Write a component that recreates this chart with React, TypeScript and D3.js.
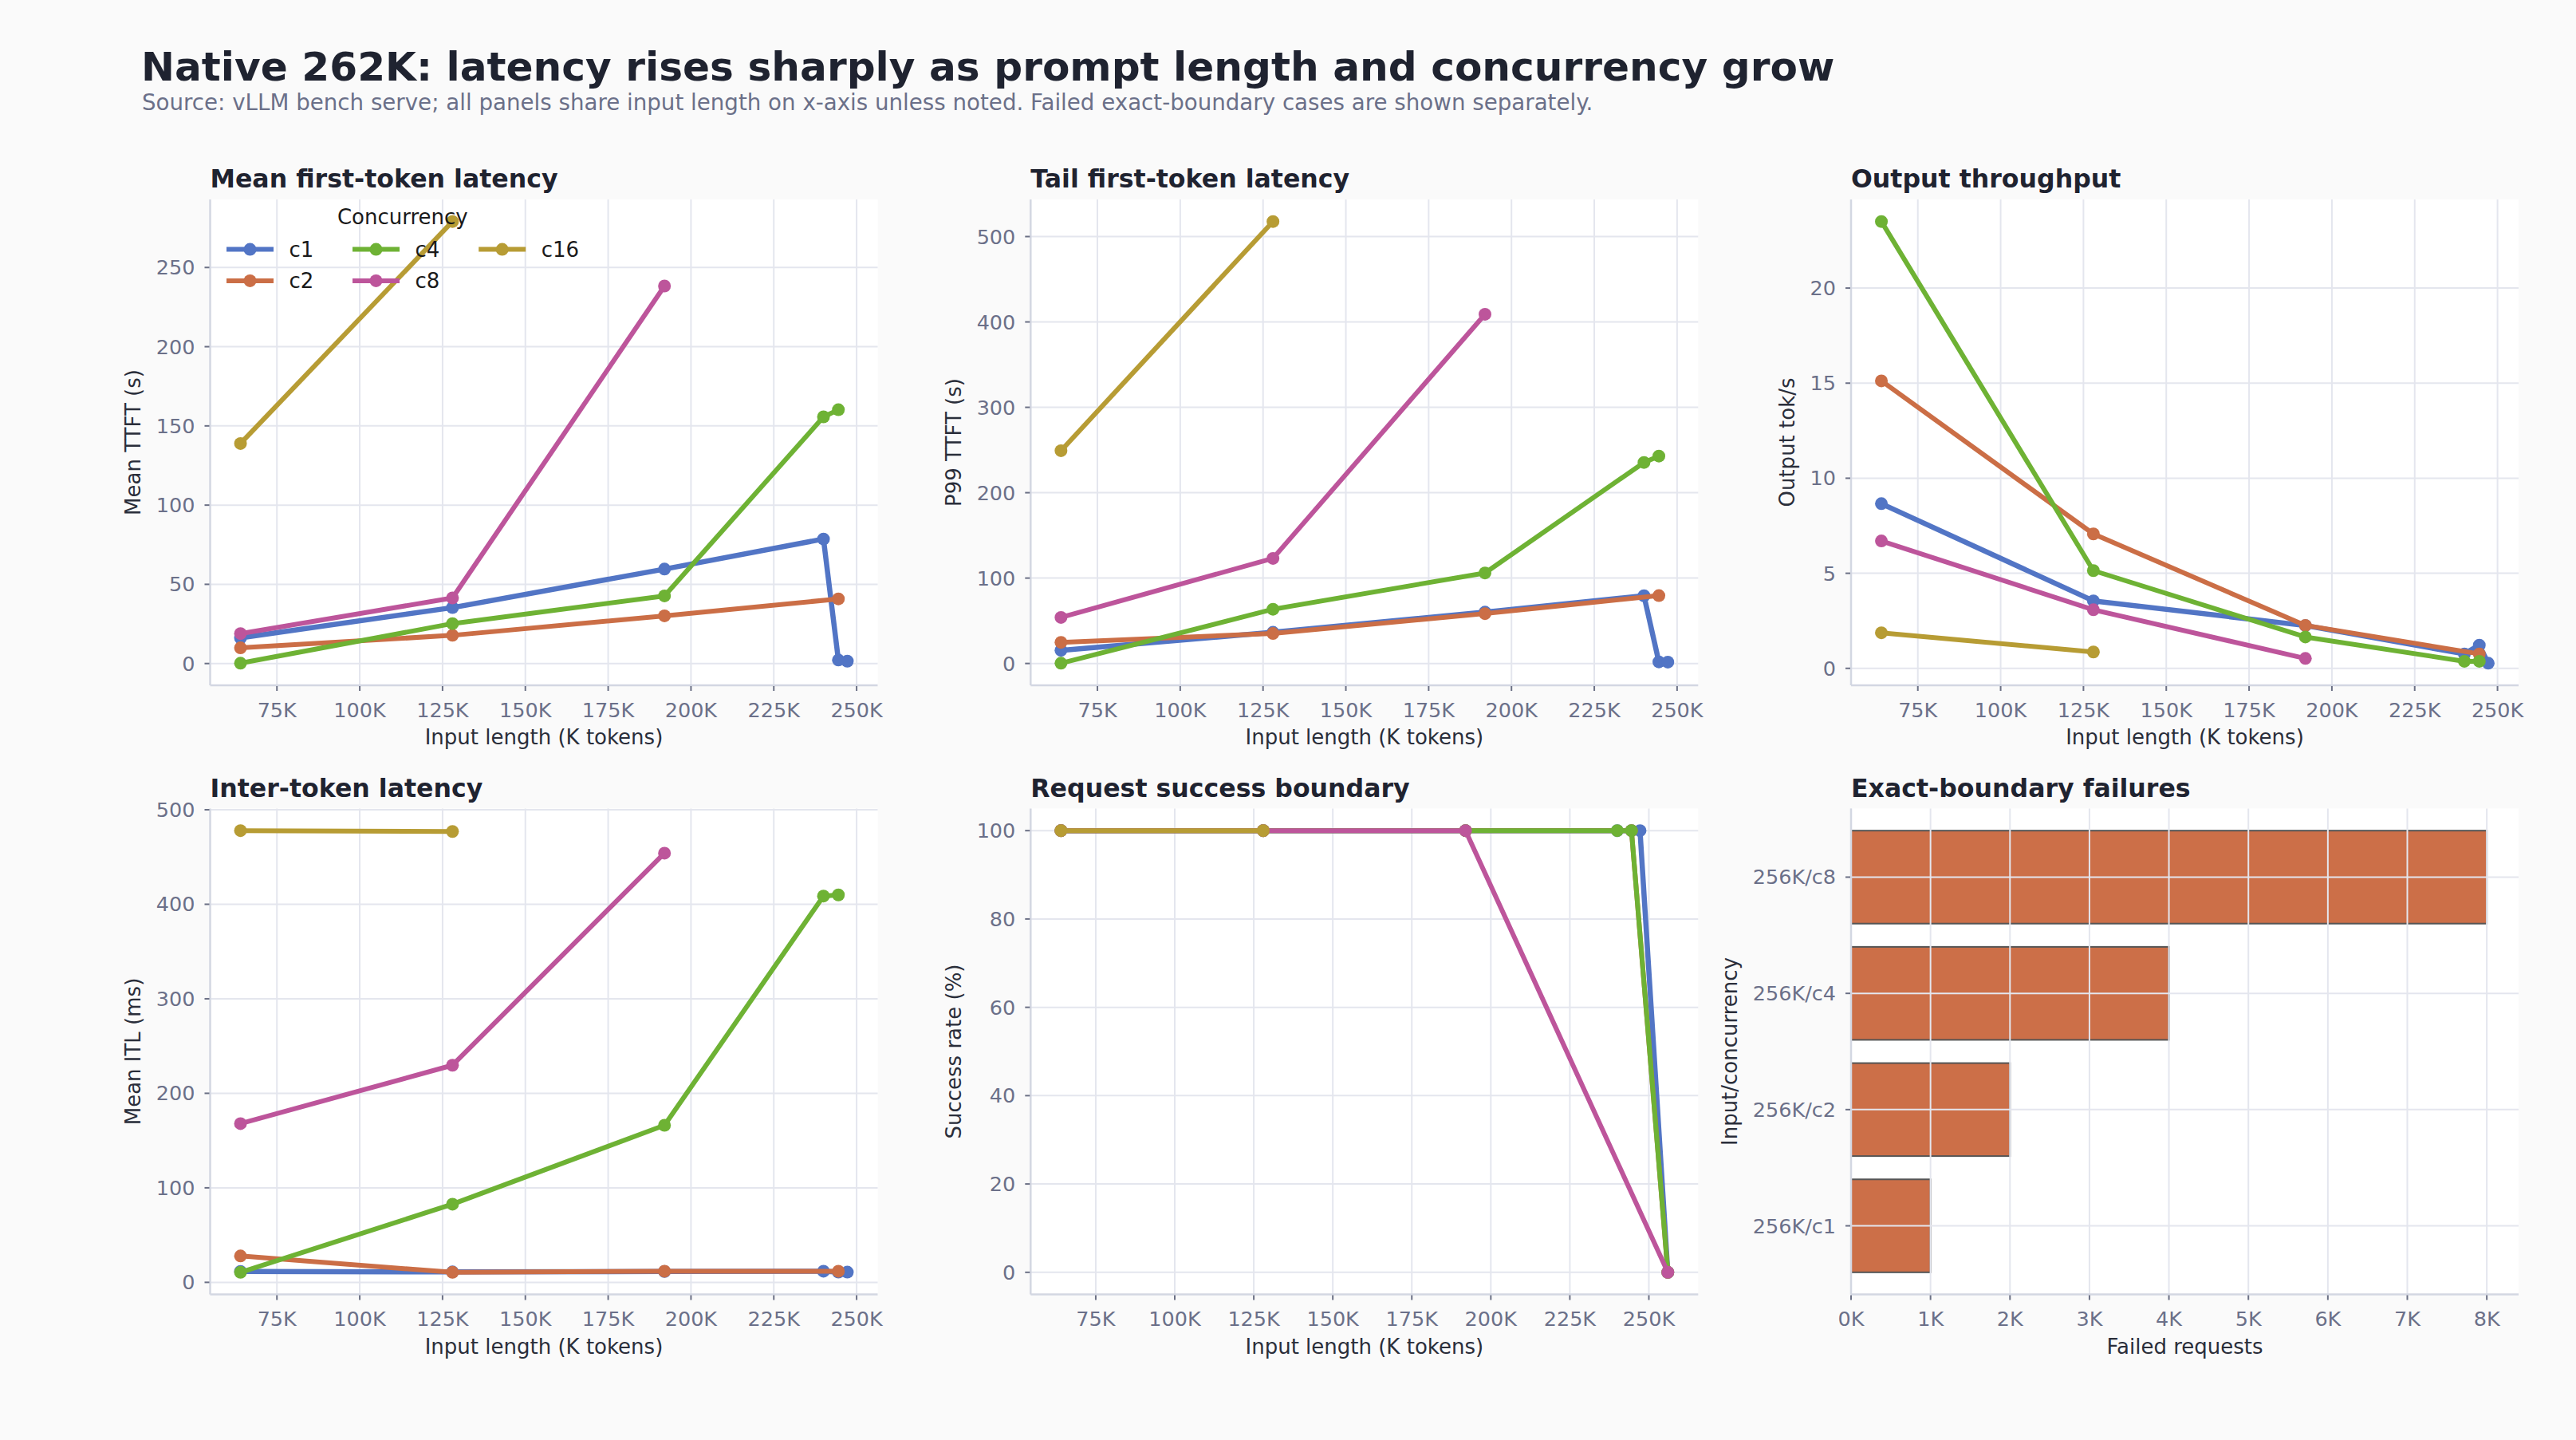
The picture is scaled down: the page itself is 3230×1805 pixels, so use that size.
import React from "react";
import * as d3 from "d3";

const W = 3230;
const H = 1805;
const FONT = "'DejaVu Sans', 'Liberation Sans', sans-serif";

// ---------- data ----------
const seriesNames = ["c1", "c2", "c4", "c8", "c16"];
const seriesColors = ["#5275C5", "#CB6E46", "#6EB234", "#BD559B", "#B79C34"];

// input lengths in K tokens per concurrency
const xC1 = [64, 128, 192, 240, 244.5, 247.2];
const xC2 = [64, 128, 192, 244.5];
const xC4 = [64, 128, 192, 240, 244.5];
const xC8 = [64, 128, 192];
const xC16 = [64, 128];
const boundaryX = 256;

// Mean TTFT (s)
const ttftMeanC1 = [16.2, 35.3, 59.6, 78.6, 2.2, 1.5];
const ttftMeanC2 = [9.9, 17.8, 30.1, 40.8];
const ttftMeanC4 = [0.2, 25.2, 42.7, 155.7, 160.2];
const ttftMeanC8 = [18.9, 41.4, 238.3];
const ttftMeanC16 = [138.9, 279.0];

// P99 TTFT (s)
const ttftP99C1 = [15.4, 36.5, 60.1, 79.3, 1.8, 1.6];
const ttftP99C2 = [24.7, 35.1, 58.4, 79.5];
const ttftP99C4 = [0.3, 63.5, 106.0, 235.4, 242.9];
const ttftP99C8 = [53.9, 123.1, 409.0];
const ttftP99C16 = [249.2, 517.6];

// Output throughput (tok/s)
const tputC1 = [8.66, 3.55, 2.25, 0.76, 1.22, 0.27];
const tputC2 = [15.12, 7.07, 2.26, 0.76];
const tputC4 = [23.5, 5.14, 1.65, 0.37, 0.37];
const tputC8 = [6.7, 3.08, 0.52];
const tputC16 = [1.87, 0.86];

// Mean ITL (ms)
const itlC1 = [11.5, 11.0, 11.5, 11.8, 10.8, 10.8];
const itlC2 = [27.9, 10.6, 11.8, 11.8];
const itlC4 = [10.6, 82.7, 166.2, 408.7, 409.9];
const itlC8 = [167.9, 229.7, 454.1];
const itlC16 = [477.9, 477.0];

// Success rate (%) – last value is the exact 256K boundary
const successC1 = [100, 100, 100, 100, 100, 100, 0];
const successC2 = [100, 100, 100, 100, 0];
const successC4 = [100, 100, 100, 100, 100, 0];
const successC8 = [100, 100, 100, 0];
const successC16 = [100, 100];

// Exact-boundary failures
const failCategories = ["256K/c1", "256K/c2", "256K/c4", "256K/c8"];
const failValues = [1000, 2000, 4000, 8000];

// ticks
const xTicksK = [75, 100, 125, 150, 175, 200, 225, 250];
const ttftMeanTicks = [0, 50, 100, 150, 200, 250];
const ttftP99Ticks = [0, 100, 200, 300, 400, 500];
const tputTicks = [0, 5, 10, 15, 20];
const itlTicks = [0, 100, 200, 300, 400, 500];
const successTicks = [0, 20, 40, 60, 80, 100];
const failTicks = [0, 1000, 2000, 3000, 4000, 5000, 6000, 7000, 8000];

// ---------- style ----------
const BG = "#FAFAFA";
const GRID = "#E4E6EE";
const SPINE = "#D3D7E2";
const TICK = "#6B7085";
const TICKLBL = "#6B7089";
const LABEL = "#2A2E3A";
const TITLE = "#1F2330";
const TICK_FS = 25.5;
const LABEL_FS = 26;
const LEGEND_FS = 26;

const xsOf = [xC1, xC2, xC4, xC8, xC16];

type Series = { name: string; color: string; xs: number[]; ys: number[] };

function mk(ys: number[][], xs: number[][] = xsOf): Series[] {
  return seriesNames.map((n, i) => ({ name: n, color: seriesColors[i], xs: xs[i], ys: ys[i] }));
}

function padExt(ext: [number, number]): [number, number] {
  const s = ext[1] - ext[0];
  return [ext[0] - 0.05 * s, ext[1] + 0.05 * s];
}

function estW(s: string, fs: number) {
  const m: Record<string, number> = { "/": 0.337, K: 0.656, c: 0.55, ".": 0.318 };
  let w = 0;
  for (const ch of s) w += m[ch] ?? 0.636;
  return w * fs;
}

const kFmt = (d: number) => `${d}K`;

type FrameProps = {
  x0: number; y0: number; w: number; h: number;
  xPos: (d: number) => number; yPos: (d: number) => number;
  xTicks: number[]; yTicks: number[];
  xFmt: (d: number) => string; yFmt: (d: number) => string;
  title: string; xlabel: string; ylabel: string;
};

function Grid({ x0, y0, w, h, xPos, yPos, xTicks, yTicks }: FrameProps) {
  return (
    <g>
      {xTicks.map((t) => (
        <line key={"gx" + t} x1={xPos(t)} x2={xPos(t)} y1={y0} y2={y0 + h} stroke={GRID} strokeWidth={2} />
      ))}
      {yTicks.map((t) => (
        <line key={"gy" + t} x1={x0} x2={x0 + w} y1={yPos(t)} y2={yPos(t)} stroke={GRID} strokeWidth={2} />
      ))}
    </g>
  );
}

function Decor(p: FrameProps) {
  const { x0, y0, w, h, xPos, yPos, xTicks, yTicks, xFmt, yFmt, title, xlabel, ylabel } = p;
  const x1 = x0 + w;
  const y1 = y0 + h;
  const maxW = Math.max(...yTicks.map((t) => estW(yFmt(t), TICK_FS)));
  const ylx = x0 - maxW - 46.5;
  const cy = y0 + h / 2;
  return (
    <g fontFamily={FONT}>
      <line x1={x0} x2={x0} y1={y0} y2={y1} stroke={SPINE} strokeWidth={2.5} />
      <line x1={x0} x2={x1} y1={y1} y2={y1} stroke={SPINE} strokeWidth={2.5} />
      {xTicks.map((t) => (
        <g key={"tx" + t}>
          <line x1={xPos(t)} x2={xPos(t)} y1={y1 + 1} y2={y1 + 7} stroke={TICK} strokeWidth={2} />
          <text x={xPos(t)} y={y1 + 39.5} textAnchor="middle" fontSize={TICK_FS} fill={TICKLBL}>
            {xFmt(t)}
          </text>
        </g>
      ))}
      {yTicks.map((t) => (
        <g key={"ty" + t}>
          <line x1={x0 - 7} x2={x0 - 1} y1={yPos(t)} y2={yPos(t)} stroke={TICK} strokeWidth={2} />
          <text x={x0 - 19} y={yPos(t) + 9} textAnchor="end" fontSize={TICK_FS} fill={TICKLBL}>
            {yFmt(t)}
          </text>
        </g>
      ))}
      <text x={x0 + w / 2} y={y1 + 74} textAnchor="middle" fontSize={LABEL_FS} fill={LABEL}>
        {xlabel}
      </text>
      <text
        transform={`translate(${ylx + 8},${cy}) rotate(-90)`}
        textAnchor="middle"
        fontSize={LABEL_FS}
        fill={LABEL}
      >
        {ylabel}
      </text>
      <text x={x0} y={y0 - 15} fontSize={31.6} fontWeight="bold" fill={TITLE}>
        {title}
      </text>
    </g>
  );
}

function Legend({ x0, y0 }: { x0: number; y0: number }) {
  const colX = [20.5, 178.5, 336.7];
  const rowY = [62.6, 101.9];
  return (
    <g fontFamily={FONT}>
      <text x={x0 + 20.5 + (336.7 + 78.5 + 47 - 20.5) / 2} y={y0 + 31} textAnchor="middle" fontSize={LEGEND_FS} fill="#1A1A1A">
        Concurrency
      </text>
      {seriesNames.map((n, i) => {
        const col = Math.floor(i / 2);
        const row = i % 2;
        const hx = x0 + colX[col];
        const hy = y0 + rowY[row];
        return (
          <g key={n}>
            <line x1={hx} x2={hx + 59} y1={hy} y2={hy} stroke={seriesColors[i]} strokeWidth={6} />
            <circle cx={hx + 29.5} cy={hy} r={8} fill={seriesColors[i]} />
            <text x={hx + 78.5} y={hy + 9} fontSize={LEGEND_FS} fill="#1A1A1A">
              {n}
            </text>
          </g>
        );
      })}
    </g>
  );
}

type LPProps = {
  x0: number; y0: number; w: number; h: number;
  series: Series[]; yTicks: number[];
  title: string; xlabel: string; ylabel: string; legend?: boolean;
};

function LinePanel({ x0, y0, w, h, series, yTicks, title, xlabel, ylabel, legend }: LPProps) {
  const allX = series.flatMap((s) => s.xs);
  const allY = series.flatMap((s) => s.ys);
  const xs = d3.scaleLinear().domain(padExt(d3.extent(allX) as [number, number])).range([x0, x0 + w]);
  const ys = d3.scaleLinear().domain(padExt(d3.extent(allY) as [number, number])).range([y0 + h, y0]);
  const fp: FrameProps = {
    x0, y0, w, h,
    xPos: (d) => xs(d), yPos: (d) => ys(d),
    xTicks: xTicksK, yTicks,
    xFmt: kFmt, yFmt: (d) => String(d),
    title, xlabel, ylabel,
  };
  return (
    <g>
      <rect x={x0} y={y0} width={w} height={h} fill="#FFFFFF" />
      <Grid {...fp} />
      {series.map((s) => {
        const pts = s.xs.map((x, i) => [x, s.ys[i]] as [number, number]);
        const path = d3.line<[number, number]>().x((d) => xs(d[0])).y((d) => ys(d[1]))(pts) || "";
        return (
          <g key={s.name}>
            <path d={path} fill="none" stroke={s.color} strokeWidth={s.name === "c1" ? 6.5 : 6} strokeLinejoin="round" />
            {pts.map((d, i) => (
              <circle key={i} cx={xs(d[0])} cy={ys(d[1])} r={8} fill={s.color} />
            ))}
          </g>
        );
      })}
      <Decor {...fp} />
      {legend ? <Legend x0={x0} y0={y0} /> : null}
    </g>
  );
}

function BarPanel({ x0, y0, w, h }: { x0: number; y0: number; w: number; h: number }) {
  const xs = d3.scaleLinear().domain([0, d3.max(failValues)! * 1.05]).range([x0, x0 + w]);
  const n = failCategories.length;
  const ys = d3.scaleLinear().domain(padExt([-0.4, n - 1 + 0.4])).range([y0 + h, y0]);
  const idx = failCategories.map((_, i) => i);
  const fp: FrameProps = {
    x0, y0, w, h,
    xPos: (d) => xs(d), yPos: (d) => ys(d),
    xTicks: failTicks, yTicks: idx,
    xFmt: (d) => `${d / 1000}K`, yFmt: (i) => failCategories[i],
    title: "Exact-boundary failures", xlabel: "Failed requests", ylabel: "Input/concurrency",
  };
  return (
    <g>
      <rect x={x0} y={y0} width={w} height={h} fill="#FFFFFF" />
      {failValues.map((v, i) => (
        <rect
          key={i}
          x={xs(0)}
          y={ys(i + 0.4)}
          width={xs(v) - xs(0)}
          height={ys(i - 0.4) - ys(i + 0.4)}
          fill="#CC6F48"
          stroke="#555555"
          strokeWidth={2}
        />
      ))}
      <Grid {...fp} />
      <Decor {...fp} />
    </g>
  );
}

export default function App() {
  const colLeft = [263.5, 1292.3, 2321];
  const rowTop = [250, 1013.5];
  const pw = 837;
  const ph = 609;
  const xl = "Input length (K tokens)";
  const successXs = [
    [...xC1, boundaryX],
    [...xC2, boundaryX],
    [...xC4, boundaryX],
    [...xC8, boundaryX],
    xC16,
  ];
  return (
    <svg
      width={W}
      height={H}
      viewBox={`0 0 ${W} ${H}`}
      style={{ position: "absolute", left: 0, top: 0, display: "block" }}
      fontFamily={FONT}
    >
      <rect x={0} y={0} width={W} height={H} fill={BG} />
      <text x={177} y={101} fontSize={50.2} fontWeight="bold" fill={TITLE}>
        Native 262K: latency rises sharply as prompt length and concurrency grow
      </text>
      <text x={178} y={138} fontSize={27.7} fill="#6B7089">
        Source: vLLM bench serve; all panels share input length on x-axis unless noted. Failed exact-boundary cases are shown separately.
      </text>
      <LinePanel
        x0={colLeft[0]} y0={rowTop[0]} w={pw} h={ph}
        series={mk([ttftMeanC1, ttftMeanC2, ttftMeanC4, ttftMeanC8, ttftMeanC16])}
        yTicks={ttftMeanTicks}
        title="Mean first-token latency" xlabel={xl} ylabel="Mean TTFT (s)" legend
      />
      <LinePanel
        x0={colLeft[1]} y0={rowTop[0]} w={pw} h={ph}
        series={mk([ttftP99C1, ttftP99C2, ttftP99C4, ttftP99C8, ttftP99C16])}
        yTicks={ttftP99Ticks}
        title="Tail first-token latency" xlabel={xl} ylabel="P99 TTFT (s)"
      />
      <LinePanel
        x0={colLeft[2]} y0={rowTop[0]} w={pw} h={ph}
        series={mk([tputC1, tputC2, tputC4, tputC8, tputC16])}
        yTicks={tputTicks}
        title="Output throughput" xlabel={xl} ylabel="Output tok/s"
      />
      <LinePanel
        x0={colLeft[0]} y0={rowTop[1]} w={pw} h={ph}
        series={mk([itlC1, itlC2, itlC4, itlC8, itlC16])}
        yTicks={itlTicks}
        title="Inter-token latency" xlabel={xl} ylabel="Mean ITL (ms)"
      />
      <LinePanel
        x0={colLeft[1]} y0={rowTop[1]} w={pw} h={ph}
        series={mk([successC1, successC2, successC4, successC8, successC16], successXs)}
        yTicks={successTicks}
        title="Request success boundary" xlabel={xl} ylabel="Success rate (%)"
      />
      <BarPanel x0={colLeft[2]} y0={rowTop[1]} w={pw} h={ph} />
    </svg>
  );
}
